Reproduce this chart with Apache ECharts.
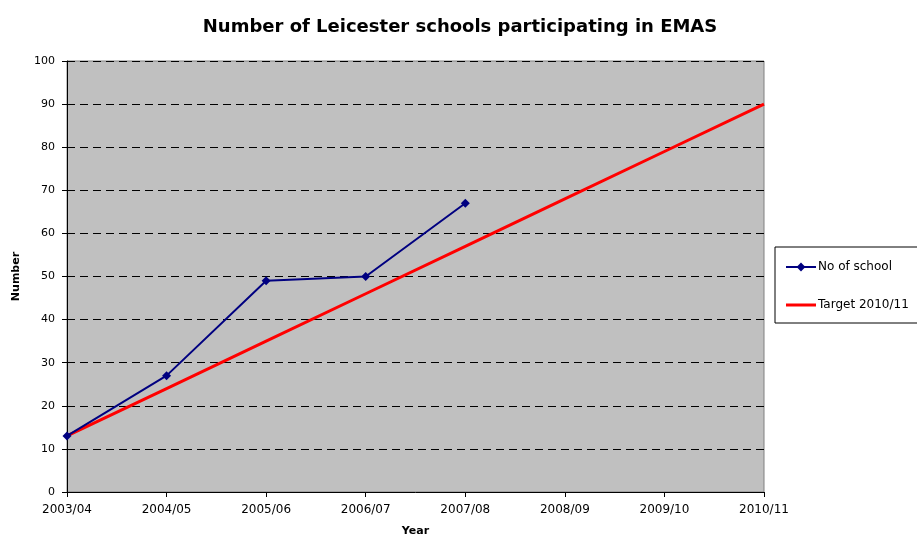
<!DOCTYPE html>
<html>
<head>
<meta charset="utf-8">
<script src="https://cdn.jsdelivr.net/npm/echarts@6/dist/echarts.min.js"></script>
<style>
  html, body { margin: 0; padding: 0; background: #fff; }
  #chart { width: 917px; height: 536px; }
</style>
</head>
<body>
<div id="chart"></div>
<script>
  const years = ['2003/04', '2004/05', '2005/06', '2006/07', '2007/08', '2008/09', '2009/10', '2010/11']
  const schools = [13, 27, 49, 50, 67]
  const target = [13, 24, 35, 46, 57, 68, 79, 90]

  const font = 'DejaVu Sans, Arial, sans-serif'
  const chart = echarts.init(document.getElementById('chart'))

  chart.setOption({
    animation: false,
    backgroundColor: '#fff',
    title: {
      text: 'Number of Leicester schools participating in EMAS',
      left: 455,
      textAlign: 'center',
      top: 13,
      textStyle: { fontFamily: font, fontSize: 18, fontWeight: 'bold', color: '#000' },
    },
    grid: {
      left: 67, right: 153, top: 61, bottom: 44,
      outerBoundsMode: 'none',
      show: true,
      backgroundColor: '#c0c0c0',
      borderColor: '#808080',
      borderWidth: 1,
    },
    legend: {
      orient: 'vertical',
      left: 775,
      top: 247,
      padding: [14, 40, 12, 10],
      itemGap: 26,
      itemWidth: 30,
      itemHeight: 11,
      borderColor: '#000',
      borderWidth: 1,
      backgroundColor: '#fff',
      textStyle: { fontFamily: font, fontSize: 12, color: '#000', padding: [0, 0, 0, -3] },
      data: [
        'No of school',
        { name: 'Target 2010/11', icon: 'path://M0,0 L30,0 L30,3 L0,3 Z' },
      ],
    },
    xAxis: {
      type: 'category',
      data: years,
      boundaryGap: false,
      name: 'Year',
      nameLocation: 'middle',
      nameGap: 34,
      nameTextStyle: { fontFamily: font, fontSize: 11, fontWeight: 'bold', color: '#000' },
      axisLine: { lineStyle: { color: '#000', width: 1 } },
      axisTick: { show: true, length: 5, inside: false, alignWithLabel: true, lineStyle: { color: '#000' } },
      axisLabel: { fontFamily: font, fontSize: 12, color: '#000', margin: 12, interval: 0 },
      splitLine: { show: false },
    },
    yAxis: {
      type: 'value',
      min: 0,
      max: 100,
      interval: 10,
      name: 'Number',
      nameLocation: 'middle',
      nameGap: 45,
      nameRotate: 90,
      nameTextStyle: { fontFamily: font, fontSize: 11, fontWeight: 'bold', color: '#000' },
      axisLine: { show: true, lineStyle: { color: '#000', width: 1 } },
      axisTick: { show: true, length: 5, inside: false, lineStyle: { color: '#000' } },
      axisLabel: { fontFamily: font, fontSize: 11, color: '#000', margin: 12 },
      splitLine: { show: true, lineStyle: { color: '#000', type: [8, 5], width: 1 } },
    },
    series: [
      {
        name: 'No of school',
        type: 'line',
        data: schools,
        color: '#000080',
        symbol: 'diamond',
        symbolSize: 9,
        lineStyle: { width: 2, color: '#000080' },
        itemStyle: { color: '#000080' },
        z: 3,
      },
      {
        name: 'Target 2010/11',
        type: 'line',
        data: target,
        color: '#ff0000',
        symbol: 'none',
        lineStyle: { width: 3, color: '#ff0000' },
        z: 2,
      },
    ],
  })
</script>
</body>
</html>
